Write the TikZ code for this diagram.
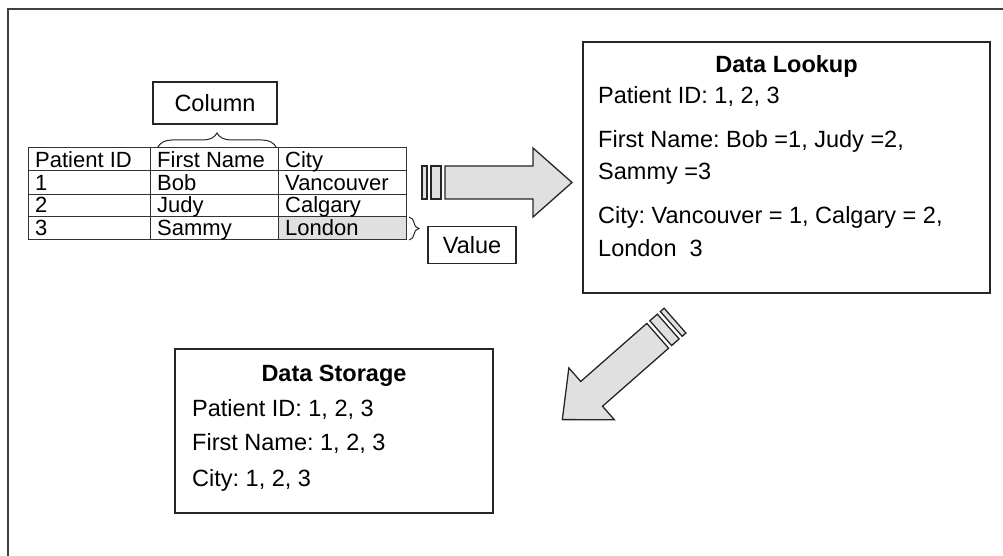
\documentclass[tikz,border=0pt]{standalone}
\usepackage{fontspec}
\setmainfont{Liberation Sans}
\usetikzlibrary{decorations.pathreplacing}
\begin{document}
\frenchspacing
\begin{tikzpicture}[x=1pt,y=-1pt,font=\fontsize{23.5}{27}\selectfont,
  txt/.style={inner sep=0pt,anchor=base west},
  tcell/.style={inner sep=0pt,anchor=base west,font=\fontsize{22}{26}\selectfont},
  ttl/.style={inner sep=0pt,anchor=base,font=\fontsize{23.5}{27}\selectfont\bfseries},
  box/.style={draw=black!85,line width=1.5pt,inner sep=0pt},
  cell/.style={draw=black!80,line width=1pt},
  fat/.style={draw=black!85,fill=black!12,line width=1.3pt,line join=miter},
  brc/.style={draw=black!85,line width=1pt,decorate}]
\useasboundingbox (0,0) rectangle (1003,556);
% outer frame (top and left only)
\draw[line width=2pt,black!75] (8,556) -- (8,9) -- (1003,9);

% table
\fill[black!12] (278,216) rectangle (406,239);
\draw[cell] (28,148) rectangle (406,239);
\draw[cell] (28,171) -- (406,171) (28,194) -- (406,194) (28,216) -- (406,216);
\draw[cell] (150,148) -- (150,239) (278,148) -- (278,239);
\node[tcell] (h1) at (35,167.5) {Patient ID};
\node[tcell] (h2) at (157,167.5) {First Name};
\node[tcell] (h3) at (285,167.5) {City};
\node[tcell] (a1) at (35,190.5) {1};
\node[tcell] (a2) at (157,190.5) {Bob};
\node[tcell] (a3) at (285,190.5) {Vancouver};
\node[tcell] (b1) at (35,212.5) {2};
\node[tcell] (b2) at (157,212.5) {Judy};
\node[tcell] (b3) at (285,212.5) {Calgary};
\node[tcell] (c1) at (35,235) {3};
\node[tcell] (c2) at (157,235) {Sammy};
\node[tcell] (c3) at (285,235) {London};

% Column label
\node[box,minimum width=124pt,minimum height=42pt] (colbox) at (215,103) {Column};
\draw[brc,decoration={brace,amplitude=14pt}] (158,147) -- (276,147);

% Value label
\node[box,minimum width=88pt,minimum height=37pt] (valbox) at (472,245) {Value};
\draw[brc,decoration={brace,amplitude=10pt}] (409,217) -- (409,240);

% horizontal fat arrow
\begin{scope}[shift={(422,182.5)}]
  \draw[fat] (0,-16.5) rectangle (5,16.5);
  \draw[fat] (9,-16.5) rectangle (19,16.5);
  \draw[fat] (23,-16.5) -- (111,-16.5) -- (111,-34.5) -- (150,0) -- (111,34.5) -- (111,16.5) -- (23,16.5) -- cycle;
\end{scope}

% Data Lookup box
\node[box,minimum width=407pt,minimum height=251pt] (lookup) at (786.5,167.5) {};
\node[ttl] (lt) at (786.5,72.5) {Data Lookup};
\node[txt] (l1) at (598,103.5) {Patient ID: 1, 2, 3};
\node[txt] (l2) at (598,147.5) {First Name: Bob =1, Judy =2,};
\node[txt] (l3) at (598,180) {Sammy =3};
\node[txt] (l4) at (598,223) {City: Vancouver = 1, Calgary = 2,};
\node[txt] (l5) at (598,256) {London\ \ 3};

% diagonal fat arrow
\begin{scope}[shift={(675,320.6)},rotate=221.3]
  \draw[fat] (0,-16.5) rectangle (5,16.5);
  \draw[fat] (9,-16.5) rectangle (19,16.5);
  \draw[fat] (23,-16.5) -- (111,-16.5) -- (111,-34.5) -- (150,0) -- (111,34.5) -- (111,16.5) -- (23,16.5) -- cycle;
\end{scope}

% Data Storage box
\node[box,minimum width=318pt,minimum height=164pt] (storage) at (334,431) {};
\node[ttl] (st) at (334,381) {Data Storage};
\node[txt] (s1) at (192,416) {Patient ID: 1, 2, 3};
\node[txt] (s2) at (192,450) {First Name: 1, 2, 3};
\node[txt] (s3) at (192,486) {City: 1, 2, 3};
\end{tikzpicture}
\end{document}
